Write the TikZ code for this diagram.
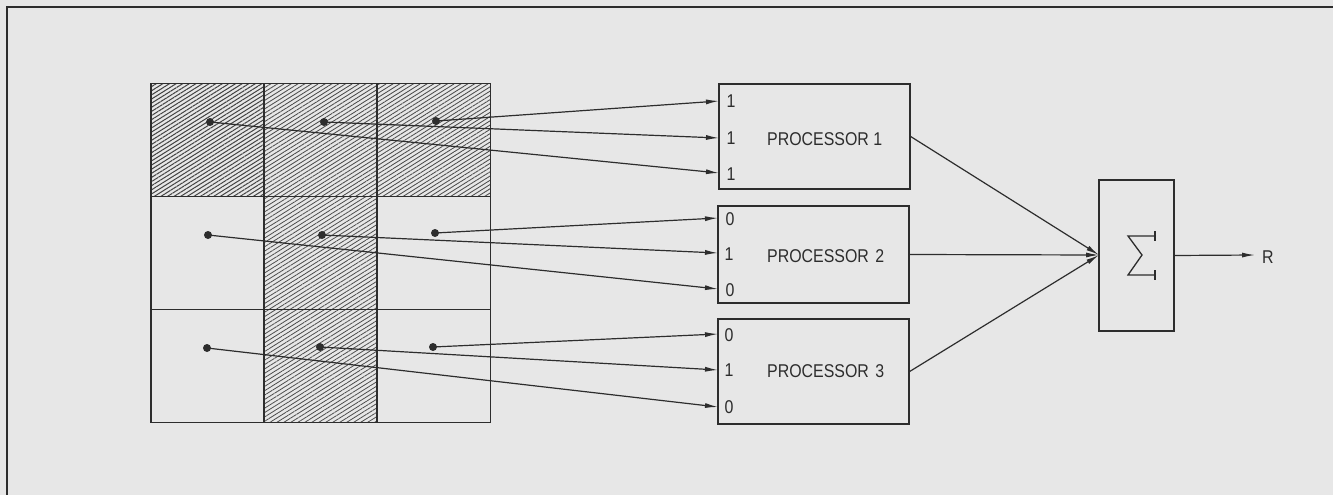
\documentclass[tikz,border=0pt]{standalone}
\usepackage{fontspec}
\setsansfont{Liberation Sans}[FakeStretch=0.86]
\usetikzlibrary{arrows.meta,patterns.meta}
\definecolor{bgc}{RGB}{231,231,231}
\definecolor{ink}{RGB}{45,45,45}
\tikzset{
  lbl/.style={font=\sffamily\fontsize{18.5}{22}\selectfont, text=ink, inner sep=0pt},
  cell/.style={draw=ink, line width=1.3pt, minimum width=113pt, minimum height=113pt, inner sep=0pt, outer sep=0pt},
  hatchA/.style={pattern={Lines[angle=32,distance=3.5pt,line width=1.0pt]}, pattern color=ink!90},
  hatchB/.style={pattern={Lines[angle=32,distance=3.6pt,line width=0.85pt]}, pattern color=ink!85},
  hatchC/.style={pattern={Lines[angle=32,distance=3.7pt,line width=0.8pt]}, pattern color=ink!85},
  dotnode/.style={circle, fill=ink, minimum size=8pt, inner sep=0pt},
  procbox/.style={draw=ink, line width=1.3pt, minimum width=191pt, inner sep=0pt},
  conn/.style={draw=ink, line width=1.2pt, -{Latex[length=13pt,width=5pt]}},
}
\begin{document}
\begin{tikzpicture}[x=1pt,y=-1pt]
\useasboundingbox (0,0) rectangle (1333,495);
\fill[bgc] (0,0) rectangle (1333,495);
% frame
\draw[ink, line width=1.6pt] (7,495) -- (7,7) -- (1333,7);

% grid cells
\node[cell,hatchA] (c11) at (207.5,140) {};
\node[cell,hatchB] (c12) at (320.5,140) {};
\node[cell,hatchB] (c13) at (434,140) {};
\node[cell] (c21) at (207.5,253) {};
\node[cell,hatchC] (c22) at (320.5,253) {};
\node[cell] (c23) at (434,253) {};
\node[cell] (c31) at (207.5,366) {};
\node[cell,hatchC] (c32) at (320.5,366) {};
\node[cell] (c33) at (434,366) {};

% dots
\node[dotnode] (d11) at (210,122) {};
\node[dotnode] (d12) at (324,122) {};
\node[dotnode] (d13) at (436,121) {};
\node[dotnode] (d21) at (208,235) {};
\node[dotnode] (d22) at (322,235) {};
\node[dotnode] (d23) at (435,233) {};
\node[dotnode] (d31) at (207,348) {};
\node[dotnode] (d32) at (320,347) {};
\node[dotnode] (d33) at (433,347) {};

% processors
\node[procbox, minimum height=105pt] (p1) at (814.5,136.5) {};
\node[procbox, minimum height=97pt] (p2) at (813.5,254.5) {};
\node[procbox, minimum height=105pt] (p3) at (813.5,371.5) {};

\node[lbl, anchor=west] (t1) at (767,139) {PROCESSOR 1};
\node[lbl, anchor=west] (t2) at (767,256) {PROCESSOR\hspace{0.35em}2};
\node[lbl, anchor=west] (t3) at (767,371) {PROCESSOR\hspace{0.35em}3};

% input ports
\coordinate (p1a) at (719,101);
\coordinate (p1b) at (719,138);
\coordinate (p1c) at (719,173);
\coordinate (p2a) at (718,218);
\coordinate (p2b) at (718,253);
\coordinate (p2c) at (718,289);
\coordinate (p3a) at (718,334);
\coordinate (p3b) at (718,370);
\coordinate (p3c) at (718,407);

\node[lbl] (v1a) at (731,101) {1};
\node[lbl] (v1b) at (731,138) {1};
\node[lbl] (v1c) at (731,174) {1};
\node[lbl] (v2a) at (730,219) {0};
\node[lbl] (v2b) at (729,254) {1};
\node[lbl] (v2c) at (730,290) {0};
\node[lbl] (v3a) at (729,335) {0};
\node[lbl] (v3b) at (729,370) {1};
\node[lbl] (v3c) at (729,407) {0};

% connectors grid -> processors
\draw[conn] (d13.center) -- (p1a);
\draw[conn] (d12.center) -- (p1b);
\draw[conn] (d11.center) -- (p1c);
\draw[conn] (d23.center) -- (p2a);
\draw[conn] (d22.center) -- (p2b);
\draw[conn] (d21.center) -- (p2c);
\draw[conn] (d33.center) -- (p3a);
\draw[conn] (d32.center) -- (p3b);
\draw[conn] (d31.center) -- (p3c);

% sum box
\node[draw=ink, line width=1.3pt, minimum width=75pt, minimum height=151pt, inner sep=0pt] (sum) at (1136.5,255.5) {};
\coordinate (sin) at (1099,255);
\draw[ink, line width=1.3pt] (1155,236) -- (1128,236) -- (1142,255) -- (1128,275) -- (1155,275);
\draw[ink, line width=1.3pt] (1155,231) -- (1155,241);
\draw[ink, line width=1.3pt] (1155,270) -- (1155,280);

\draw[conn] (p1.east) -- (sin);
\draw[conn] (p2.east) -- (sin);
\draw[conn] (p3.east) -- (sin);

\coordinate (rout) at (1255,255);
\draw[conn] (sum.east) -- (rout);
\node[lbl, anchor=west] (R) at (1262,257) {R};
\end{tikzpicture}
\end{document}
